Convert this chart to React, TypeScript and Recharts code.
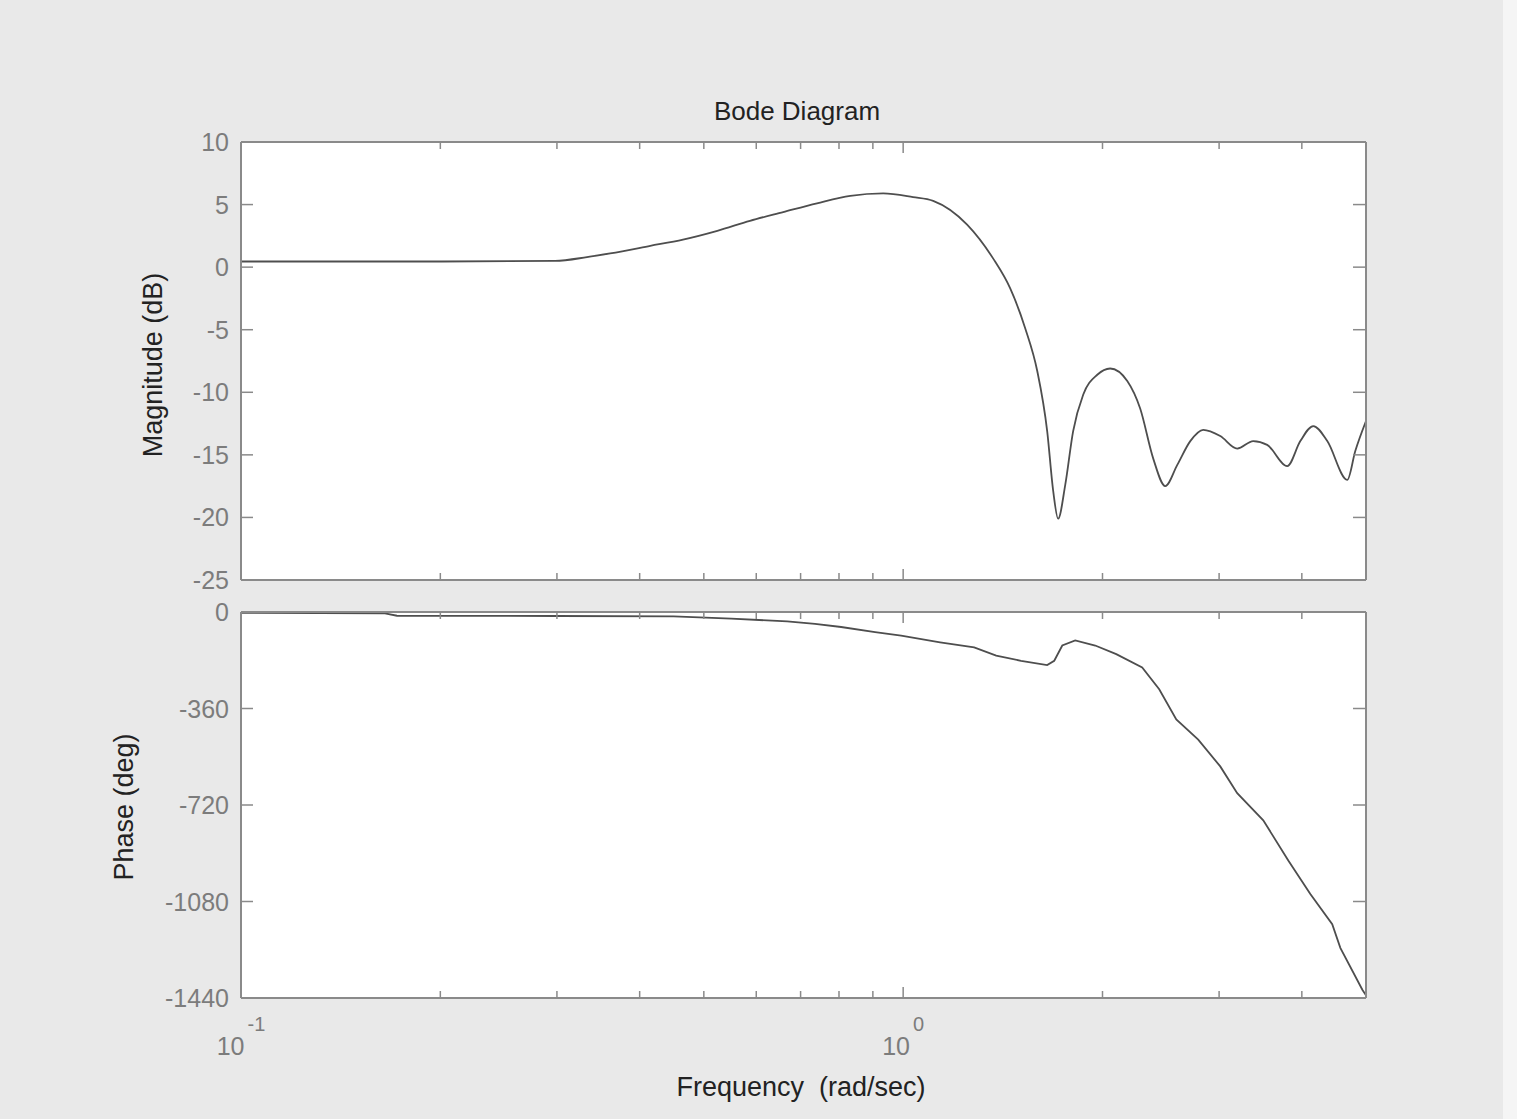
import React from 'react';
import { LineChart, Line, XAxis, YAxis, CartesianGrid } from 'recharts';

// ---------- data ----------
const freqTicks = [0.1, 0.2, 0.3, 0.4, 0.5, 0.6, 0.7, 0.8, 0.9, 1, 2, 3, 4];
const majorFreqs = [0.1, 1];
const magTicks = [10, 5, 0, -5, -10, -15, -20, -25];
const phaseTicks = [0, -360, -720, -1080, -1440];

const magFreq = [
  0.1, 0.2, 0.298, 0.333, 0.361, 0.415, 0.465, 0.524, 0.587, 0.659, 0.741, 0.832, 0.933,
  1.035, 1.11, 1.249, 1.367, 1.451, 1.529, 1.594, 1.65, 1.685, 1.714, 1.757, 1.806, 1.87,
  1.964, 2.054, 2.18, 2.28, 2.386, 2.488, 2.594, 2.714, 2.839, 3.012, 3.195, 3.378, 3.546,
  3.803, 3.979, 4.163, 4.37, 4.685, 4.817, 5.0,
];
const magDb = [
  0.45, 0.45, 0.5, 0.8, 1.1, 1.7, 2.2, 2.9, 3.7, 4.4, 5.1, 5.7, 5.9,
  5.6, 5.3, 3.4, 0.7, -1.7, -4.9, -8.3, -13.1, -17.9, -20.1, -17.4, -13.1, -10.2,
  -8.6, -8.1, -9.1, -11.3, -15.3, -17.5, -15.8, -13.9, -13.0, -13.5, -14.5, -13.9, -14.2,
  -15.9, -13.9, -12.7, -13.9, -17.0, -14.7, -12.3,
];

const phaseFreq = [
  0.1, 0.165, 0.172, 0.3, 0.45, 0.55, 0.668, 0.736, 0.806, 0.907, 0.993, 1.137, 1.28,
  1.382, 1.507, 1.65, 1.691, 1.739, 1.819, 1.95, 2.098, 2.296, 2.436, 2.585, 2.79, 3.012,
  3.195, 3.498, 3.816, 4.12, 4.446, 4.573, 4.937, 5.0,
];
const phaseDeg = [
  -3, -5, -14, -15, -16, -25, -35, -44, -56, -75, -88, -113, -132,
  -163, -182, -198, -182, -125, -106, -125, -157, -207, -288, -401, -476, -576,
  -676, -777, -927, -1052, -1165, -1253, -1409, -1430,
];

const magData = magFreq.map((f, i) => ({ f, v: magDb[i] }));
const phaseData = phaseFreq.map((f, i) => ({ f, v: phaseDeg[i] }));

// ---------- styles ----------
const FONT = '"Liberation Sans", Arial, Helvetica, sans-serif';
const AXIS = '#8a8a8a';
const TICK_TEXT = '#7c7c7c';
const LABEL_TEXT = '#222222';
const CURVE = '#4e4e4e';
const axisLine = { stroke: AXIS, strokeWidth: 2 };

const isMajor = (v: number) => majorFreqs.some((m) => Math.abs(m - v) < 1e-9);

function BottomTick(props: any) {
  const { x, y, payload, showLabel } = props;
  const v = payload.value as number;
  const major = isMajor(v);
  const edge = Math.abs(v - 0.1) < 1e-9;
  return (
    <g>
      {!edge && (
        <line x1={x} y1={y} x2={x} y2={y - (major ? 11 : 7)} stroke={AXIS} strokeWidth={1.5} />
      )}
      {showLabel && major && (
        <text x={x} y={y + 57} textAnchor="middle" fontSize={25} fill={TICK_TEXT} fontFamily={FONT}>
          <tspan>10</tspan>
          <tspan dx={3} dy={-24} fontSize={20}>{v === 1 ? '0' : '-1'}</tspan>
        </text>
      )}
    </g>
  );
}

function TopTick(props: any) {
  const { x, y, payload } = props;
  const v = payload.value as number;
  const major = isMajor(v);
  const edge = Math.abs(v - 0.1) < 1e-9;
  if (edge) return <g />;
  return <line x1={x} y1={y} x2={x} y2={y + (major ? 11 : 7)} stroke={AXIS} strokeWidth={1.5} />;
}

function LeftTick(props: any) {
  const { x, y, payload, edges } = props;
  const v = payload.value as number;
  const edge = edges.includes(v);
  return (
    <g>
      {!edge && <line x1={x} y1={y} x2={x + 12} y2={y} stroke={AXIS} strokeWidth={1.5} />}
      <text
        x={x - 12}
        y={y}
        textAnchor="end"
        dominantBaseline="central"
        fontSize={25}
        fill={TICK_TEXT}
        fontFamily={FONT}
      >
        {String(v)}
      </text>
    </g>
  );
}

function RightTick(props: any) {
  const { x, y, payload, edges } = props;
  const v = payload.value as number;
  if (edges.includes(v)) return <g />;
  return <line x1={x} y1={y} x2={x - 13} y2={y} stroke={AXIS} strokeWidth={1.5} />;
}

export default function App() {
  return (
    <div
      style={{
        position: 'absolute',
        left: 0,
        top: 0,
        width: 1517,
        height: 1119,
        background: '#e9e9e9',
        overflow: 'hidden',
      }}
    >
      <div style={{ position: 'absolute', left: 1503, top: 0, width: 14, height: 1119, background: '#f5f5f5' }} />

      {/* Magnitude */}
      <div style={{ position: 'absolute', left: 0, top: 0 }}>
        <LineChart width={1517} height={600} data={magData} margin={{ top: 140, right: 141, bottom: 18, left: 0 }}>
          <CartesianGrid xAxisId="bottom" yAxisId="left" fill="#ffffff" horizontal={false} vertical={false} />
          <XAxis
            xAxisId="bottom"
            dataKey="f"
            type="number"
            scale="log"
            domain={[0.1, 5]}
            allowDataOverflow
            ticks={freqTicks}
            interval={0}
            height={2}
            tickSize={0}
            tickMargin={0}
            tickLine={false}
            axisLine={axisLine}
            tick={<BottomTick showLabel={false} />}
          />
          <XAxis
            xAxisId="top"
            orientation="top"
            dataKey="f"
            type="number"
            scale="log"
            domain={[0.1, 5]}
            allowDataOverflow
            ticks={freqTicks}
            interval={0}
            height={2}
            tickSize={0}
            tickMargin={0}
            tickLine={false}
            axisLine={axisLine}
            tick={<TopTick />}
          />
          <YAxis
            yAxisId="left"
            type="number"
            domain={[-25, 10]}
            allowDataOverflow
            ticks={magTicks}
            interval={0}
            width={241}
            tickSize={0}
            tickMargin={0}
            tickLine={false}
            axisLine={axisLine}
            tick={<LeftTick edges={[10, -25]} />}
          />
          <YAxis
            yAxisId="right"
            orientation="right"
            type="number"
            domain={[-25, 10]}
            allowDataOverflow
            ticks={magTicks}
            interval={0}
            width={10}
            tickSize={0}
            tickMargin={0}
            tickLine={false}
            axisLine={axisLine}
            tick={<RightTick edges={[10, -25]} />}
          />
          <Line
            xAxisId="bottom"
            yAxisId="left"
            dataKey="v"
            type="monotone"
            stroke={CURVE}
            strokeWidth={1.8}
            dot={false}
            isAnimationActive={false}
          />
        </LineChart>
      </div>

      {/* Phase */}
      <div style={{ position: 'absolute', left: 0, top: 580 }}>
        <LineChart width={1517} height={539} data={phaseData} margin={{ top: 30, right: 141, bottom: 119, left: 0 }}>
          <CartesianGrid xAxisId="bottom" yAxisId="left" fill="#ffffff" horizontal={false} vertical={false} />
          <XAxis
            xAxisId="bottom"
            dataKey="f"
            type="number"
            scale="log"
            domain={[0.1, 5]}
            allowDataOverflow
            ticks={freqTicks}
            interval={0}
            height={2}
            tickSize={0}
            tickMargin={0}
            tickLine={false}
            axisLine={axisLine}
            tick={<BottomTick showLabel={true} />}
          />
          <XAxis
            xAxisId="top"
            orientation="top"
            dataKey="f"
            type="number"
            scale="log"
            domain={[0.1, 5]}
            allowDataOverflow
            ticks={freqTicks}
            interval={0}
            height={2}
            tickSize={0}
            tickMargin={0}
            tickLine={false}
            axisLine={axisLine}
            tick={<TopTick />}
          />
          <YAxis
            yAxisId="left"
            type="number"
            domain={[-1440, 0]}
            allowDataOverflow
            ticks={phaseTicks}
            interval={0}
            width={241}
            tickSize={0}
            tickMargin={0}
            tickLine={false}
            axisLine={axisLine}
            tick={<LeftTick edges={[0, -1440]} />}
          />
          <YAxis
            yAxisId="right"
            orientation="right"
            type="number"
            domain={[-1440, 0]}
            allowDataOverflow
            ticks={phaseTicks}
            interval={0}
            width={10}
            tickSize={0}
            tickMargin={0}
            tickLine={false}
            axisLine={axisLine}
            tick={<RightTick edges={[0, -1440]} />}
          />
          <Line
            xAxisId="bottom"
            yAxisId="left"
            dataKey="v"
            type="linear"
            stroke={CURVE}
            strokeWidth={1.8}
            dot={false}
            isAnimationActive={false}
          />
        </LineChart>
      </div>

      {/* Title and axis labels */}
      <svg
        width={1517}
        height={1119}
        style={{ position: 'absolute', left: 0, top: 0, pointerEvents: 'none' }}
      >
        <text x={797} y={120} textAnchor="middle" fontSize={26} fill={LABEL_TEXT} fontFamily={FONT}>
          Bode Diagram
        </text>
        <text
          transform="translate(162,365) rotate(-90)"
          textAnchor="middle"
          fontSize={27}
          fill={LABEL_TEXT}
          fontFamily={FONT}
        >
          Magnitude (dB)
        </text>
        <text
          transform="translate(133,807) rotate(-90)"
          textAnchor="middle"
          fontSize={27}
          fill={LABEL_TEXT}
          fontFamily={FONT}
        >
          Phase (deg)
        </text>
        <text
          x={801}
          y={1096}
          textAnchor="middle"
          fontSize={27}
          fill={LABEL_TEXT}
          fontFamily={FONT}
          style={{ whiteSpace: 'pre' }}
        >
          {'Frequency  (rad/sec)'}
        </text>
      </svg>
    </div>
  );
}
